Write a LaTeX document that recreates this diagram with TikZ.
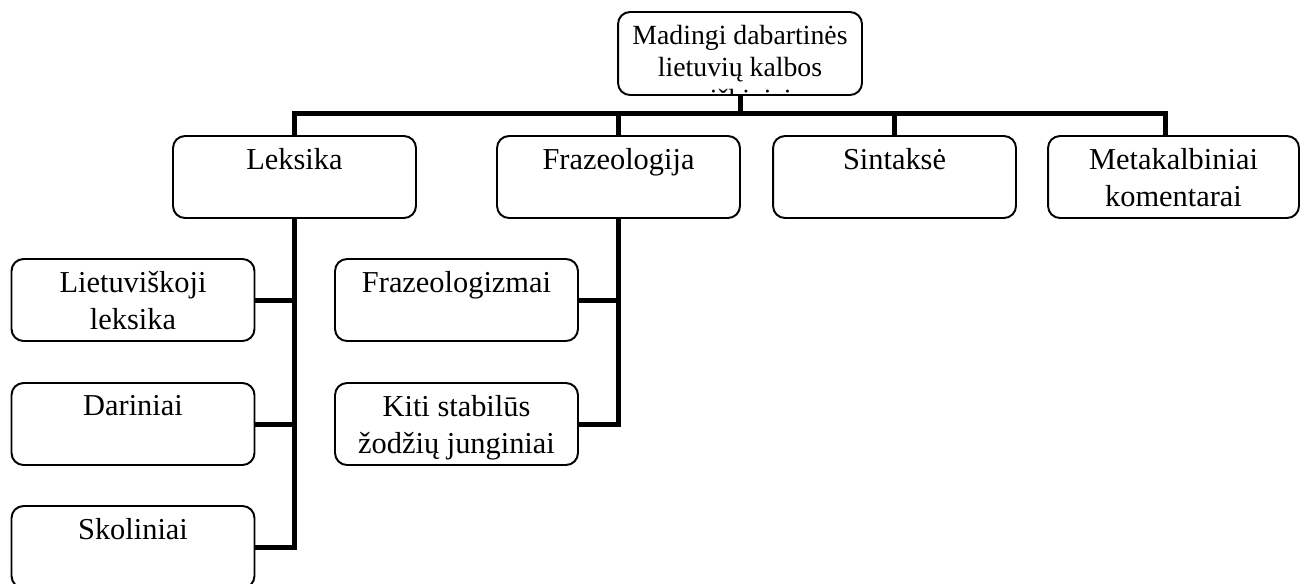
\documentclass[tikz,border=0pt]{standalone}
\usepackage{fontspec}
\setmainfont{Liberation Serif}
\tikzset{
  box/.style={draw=black,line width=1.1pt,rounded corners=0.24cm,fill=white,
              minimum width=4.86cm,minimum height=1.64cm,inner sep=0pt},
  capt/.style={anchor=north,yshift=-0.26cm,inner sep=0pt,align=center,
               font=\fontsize{17.3}{20.8}\selectfont},
  topcapt/.style={anchor=north,yshift=-0.24cm,inner sep=0pt,align=center,
               font=\fontsize{15.8}{18.3}\selectfont},
  cap/.style={label={[capt]90:{#1}}},
  link/.style={line width=0.1cm,draw=black},
}
\begin{document}
\begin{tikzpicture}[x=0.02cm,y=-0.02cm]
  \useasboundingbox (0,0) rectangle (1300,583);
  \node[box,minimum width=4.88cm,minimum height=1.66cm,
        path picture={\node[topcapt] (toptxt) at (path picture bounding box.north)
          {Madingi dabartinės\\lietuvių kalbos\\reiškiniai};}] (top) at (740,53.5) {};
  \node[box,cap=Leksika] (lek) at (294.5,177) {};
  \node[box,cap=Frazeologija] (fraz) at (618.5,177) {};
  \node[box,cap=Sintaksė] (sint) at (894.5,177) {};
  \node[box,minimum width=5.02cm,cap={Metakalbiniai\\komentarai}] (meta) at (1173.5,177) {};
  \node[box,cap={Lietuviškoji\\leksika}] (liet) at (133,300) {};
  \node[box,cap=Dariniai] (dar) at (133,424) {};
  \node[box,cap=Skoliniai] (skol) at (133,547) {};
  \node[box,cap=Frazeologizmai] (frzm) at (456.5,300) {};
  \node[box,cap={Kiti stabilūs\\žodžių junginiai}] (kiti) at (456.5,424) {};
  \coordinate (hub) at (740,113);
  \draw[link] (top.south) -- (hub);
  \draw[link] (lek.north) |- (hub) -| ([xshift=-0.16cm]meta.north);
  \draw[link] (fraz.north) -- (fraz.north |- hub);
  \draw[link] (sint.north) -- (sint.north |- hub);
  \draw[link] (lek.south) |- (skol.east);
  \draw[link] (liet.east) -- (liet.east -| lek.south);
  \draw[link] (dar.east) -- (dar.east -| lek.south);
  \draw[link] (fraz.south) |- (kiti.east);
  \draw[link] (frzm.east) -- (frzm.east -| fraz.south);
\end{tikzpicture}
\end{document}
